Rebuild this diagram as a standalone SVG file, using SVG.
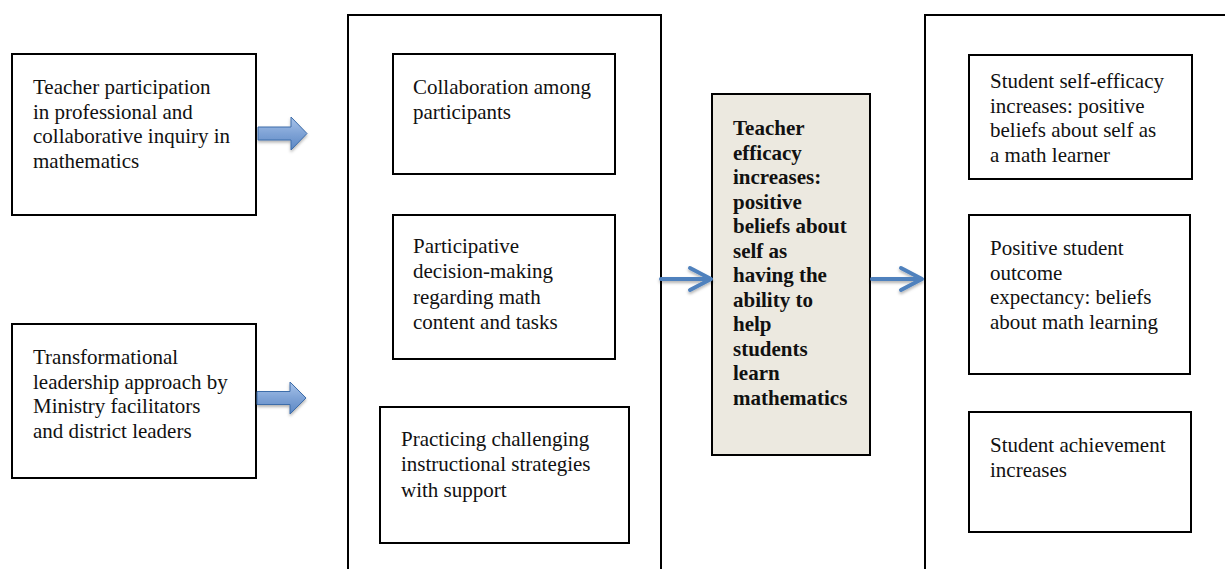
<svg xmlns="http://www.w3.org/2000/svg" width="1225" height="569" viewBox="0 0 1225 569">
<style>
.box{fill:#fff;stroke:#000;stroke-width:2}
.cont{fill:none;stroke:#000;stroke-width:2}
.bold{fill:#ECE9E0;stroke:#000;stroke-width:2}
text{font-family:"Liberation Serif","Times New Roman",serif;font-size:21px;fill:#111}
.b{font-weight:bold}
.blk{fill:url(#bg);stroke:#3D6DAA;stroke-width:1;filter:url(#sh)}
.thin{fill:none;stroke:#4F81BD;stroke-width:4;stroke-linecap:round;stroke-linejoin:round;filter:url(#sh)}
</style>
<defs>
<linearGradient id="bg" x1="0" y1="0" x2="0" y2="1">
<stop offset="0" stop-color="#A9C4EA"/>
<stop offset="0.5" stop-color="#7FA3D6"/>
<stop offset="1" stop-color="#5B87C4"/>
</linearGradient>
<filter id="sh" x="-20%" y="-20%" width="140%" height="160%">
<feDropShadow dx="0" dy="2" stdDeviation="1.5" flood-color="#000" flood-opacity="0.3"/>
</filter>
</defs>

<g id="container-middle"><rect class="cont" x="348" y="15" width="313" height="570"/></g>
<g id="container-right"><rect class="cont" x="925" y="15" width="320" height="570"/></g>

<g id="teacher-participation">
<rect class="box" x="12" y="54" width="244" height="161"/>
<text x="33" y="94"><tspan x="33">Teacher participation</tspan><tspan x="33" dy="24.7">in professional and</tspan><tspan x="33" dy="24.7">collaborative inquiry in</tspan><tspan x="33" dy="24.7">mathematics</tspan></text>
</g>

<g id="transformational-leadership">
<rect class="box" x="12" y="324" width="244" height="154"/>
<text x="33" y="364"><tspan x="33">Transformational</tspan><tspan x="33" dy="24.7">leadership approach by</tspan><tspan x="33" dy="24.7">Ministry facilitators</tspan><tspan x="33" dy="24.7">and district leaders</tspan></text>
</g>

<g id="collaboration">
<rect class="box" x="393" y="54" width="222" height="120"/>
<text x="413" y="94"><tspan x="413">Collaboration among</tspan><tspan x="413" dy="24.7">participants</tspan></text>
</g>

<g id="participative">
<rect class="box" x="393" y="215" width="222" height="144"/>
<text x="413" y="253"><tspan x="413">Participative</tspan><tspan x="413" dy="25.3">decision-making</tspan><tspan x="413" dy="25.3">regarding math</tspan><tspan x="413" dy="25.3">content and tasks</tspan></text>
</g>

<g id="practicing">
<rect class="box" x="380" y="407" width="249" height="136"/>
<text x="401" y="446"><tspan x="401">Practicing challenging</tspan><tspan x="401" dy="25.3">instructional strategies</tspan><tspan x="401" dy="25.3">with support</tspan></text>
</g>

<g id="teacher-efficacy">
<rect class="bold" x="712" y="94" width="158" height="361"/>
<text class="b" x="733" y="135"><tspan x="733">Teacher</tspan><tspan x="733" dy="24.5">efficacy</tspan><tspan x="733" dy="24.5">increases:</tspan><tspan x="733" dy="24.5">positive</tspan><tspan x="733" dy="24.5">beliefs about</tspan><tspan x="733" dy="24.5">self as</tspan><tspan x="733" dy="24.5">having the</tspan><tspan x="733" dy="24.5">ability to</tspan><tspan x="733" dy="24.5">help</tspan><tspan x="733" dy="24.5">students</tspan><tspan x="733" dy="24.5">learn</tspan><tspan x="733" dy="24.5">mathematics</tspan></text>
</g>

<g id="student-self-efficacy">
<rect class="box" x="969" y="55" width="223" height="124"/>
<text x="990" y="88"><tspan x="990">Student self-efficacy</tspan><tspan x="990" dy="24.7">increases: positive</tspan><tspan x="990" dy="24.7">beliefs about self as</tspan><tspan x="990" dy="24.7">a math learner</tspan></text>
</g>

<g id="outcome-expectancy">
<rect class="box" x="969" y="215" width="221" height="159"/>
<text x="990" y="255"><tspan x="990">Positive student</tspan><tspan x="990" dy="24.7">outcome</tspan><tspan x="990" dy="24.7">expectancy: beliefs</tspan><tspan x="990" dy="24.7">about math learning</tspan></text>
</g>

<g id="student-achievement">
<rect class="box" x="969" y="412" width="222" height="120"/>
<text x="990" y="452"><tspan x="990">Student achievement</tspan><tspan x="990" dy="25.3">increases</tspan></text>
</g>

<g id="connectors">
<path class="blk" d="M258,127 L291,127 L291,117 L307,133.5 L291,150 L291,140 L258,140 Z"/>
<path class="blk" d="M257,391.5 L290,391.5 L290,382 L306,398 L290,414 L290,404.5 L257,404.5 Z"/>
<path class="thin" d="M661,279 L710,279 M690,268 L711,279 L690,290"/>
<path class="thin" d="M872,279 L921,279 M901,268 L922,279 L901,290"/>
</g>
</svg>
